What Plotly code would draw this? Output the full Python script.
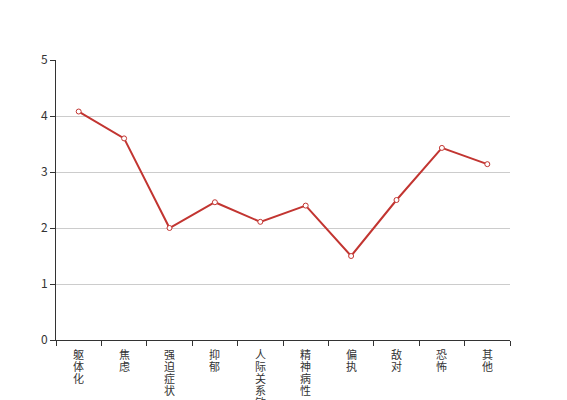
import plotly.graph_objects as go

categories = ["躯体化", "焦虑", "强迫症状", "抑郁", "人际关系敏感", "精神病性", "偏执", "敌对", "恐怖", "其他"]
values = [4.08, 3.60, 2.00, 2.46, 2.11, 2.40, 1.50, 2.50, 3.43, 3.14]
y_ticks = [0, 1, 2, 3, 4, 5]

font_family = "Noto Sans CJK SC, Noto Sans, sans-serif"

fig = go.Figure()
fig.add_trace(go.Scatter(
    x=categories, y=values, mode="lines+markers",
    line=dict(color="#c23531", width=2),
    marker=dict(symbol="circle", size=5, color="#ffffff",
                line=dict(color="#c23531", width=1)),
    hoverinfo="x+y", showlegend=False,
))

# vertical category labels: one character per line, 12px line step
annotations = []
for cat in categories:
    for i, ch in enumerate(cat):
        annotations.append(dict(
            x=cat, y=0, xref="x", yref="y",
            text=ch, showarrow=False,
            xanchor="center", yanchor="top",
            height=12, borderpad=0,
            yshift=-(7 + 12 * i),
            font=dict(family=font_family, size=11, color="#333333"),
        ))

fig.update_layout(
    width=567, height=400,
    margin=dict(l=48, r=65, t=52, b=68),
    paper_bgcolor="#ffffff", plot_bgcolor="#ffffff",
    font=dict(family=font_family, size=12, color="#333333"),
    annotations=annotations,
    xaxis=dict(
        type="category", categoryorder="array", categoryarray=categories,
        range=[-0.5, len(categories) - 0.5],
        showticklabels=False,
        tickson="boundaries", ticks="outside", ticklen=5, tickcolor="#333333",
        showline=True, linecolor="#333333", linewidth=1,
        showgrid=False, zeroline=False, automargin=False,
        fixedrange=True,
    ),
    yaxis=dict(
        range=[0, 5], tickvals=y_ticks,
        ticks="outside", ticklen=5, tickcolor="#333333",
        showline=True, linecolor="#333333", linewidth=1,
        showgrid=True, gridcolor="#cccccc", gridwidth=1,
        zeroline=False, automargin=False,
        tickfont=dict(size=12, color="#333333"),
        fixedrange=True,
    ),
)

fig.write_html("out.html")
